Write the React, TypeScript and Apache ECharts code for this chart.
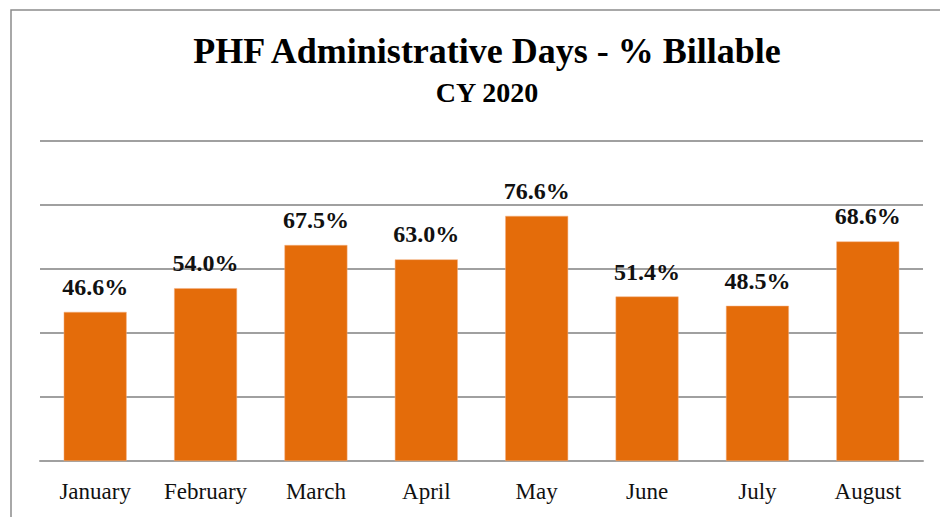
import React, { useEffect, useRef } from "react";
import * as echarts from "echarts";

const months = ["January", "February", "March", "April", "May", "June", "July", "August"];
const billablePct = [46.6, 54.0, 67.5, 63.0, 76.6, 51.4, 48.5, 68.6];
const titleText = "PHF Administrative Days - % Billable";
const subtitleText = "CY 2020";

export default function App() {
  const ref = useRef<HTMLDivElement>(null);
  useEffect(() => {
    if (!ref.current) return;
    const chart = echarts.init(ref.current, undefined, { renderer: "svg" });
    const font = "Liberation Serif";
    chart.setOption({
      animation: false,
      backgroundColor: "#ffffff",
      title: [
        {
          text: titleText,
          left: 482,
          textAlign: "center",
          top: 28,
          textStyle: { fontFamily: font, fontSize: 36, fontWeight: "bold", color: "#000" },
        },
        {
          text: subtitleText,
          left: 482,
          textAlign: "center",
          top: 73,
          textStyle: { fontFamily: font, fontSize: 28, fontWeight: "bold", color: "#000" },
        },
      ],
      graphic: [
        {
          type: "rect",
          shape: { x: 11, y: 10, width: 1000, height: 600 },
          style: { fill: "none", stroke: "#8c8c8c", lineWidth: 1.5 },
          silent: true,
        },
      ],
      grid: { left: 40, right: 17, top: 141, bottom: 56, containLabel: false },
      xAxis: {
        type: "category",
        data: months,
        axisLine: { show: true, lineStyle: { color: "#a0a0a0", width: 2 } },
        axisTick: { show: false },
        axisLabel: { fontFamily: font, fontSize: 23, color: "#111", margin: 19 },
      },
      yAxis: {
        type: "value",
        min: 0,
        max: 100,
        interval: 20,
        axisLine: { show: false },
        axisTick: { show: false },
        axisLabel: { show: false },
        splitLine: { lineStyle: { color: "#a0a0a0", width: 2 } },
      },
      series: [
        {
          type: "bar",
          data: billablePct,
          barCategoryGap: "43%",
          itemStyle: { color: "#E46C0A", borderColor: "#F4B183", borderWidth: 0.5 },
          label: {
            show: true,
            position: "top",
            distance: 13,
            formatter: (p: any) => p.value.toFixed(1) + "%",
            fontFamily: font,
            fontSize: 24,
            fontWeight: "bold",
            color: "#111",
          },
        },
      ],
    });
    return () => chart.dispose();
  }, []);
  return (
    <div
      ref={ref}
      style={{ position: "fixed", left: 0, top: 0, width: 940, height: 517, background: "#fff" }}
    />
  );
}
